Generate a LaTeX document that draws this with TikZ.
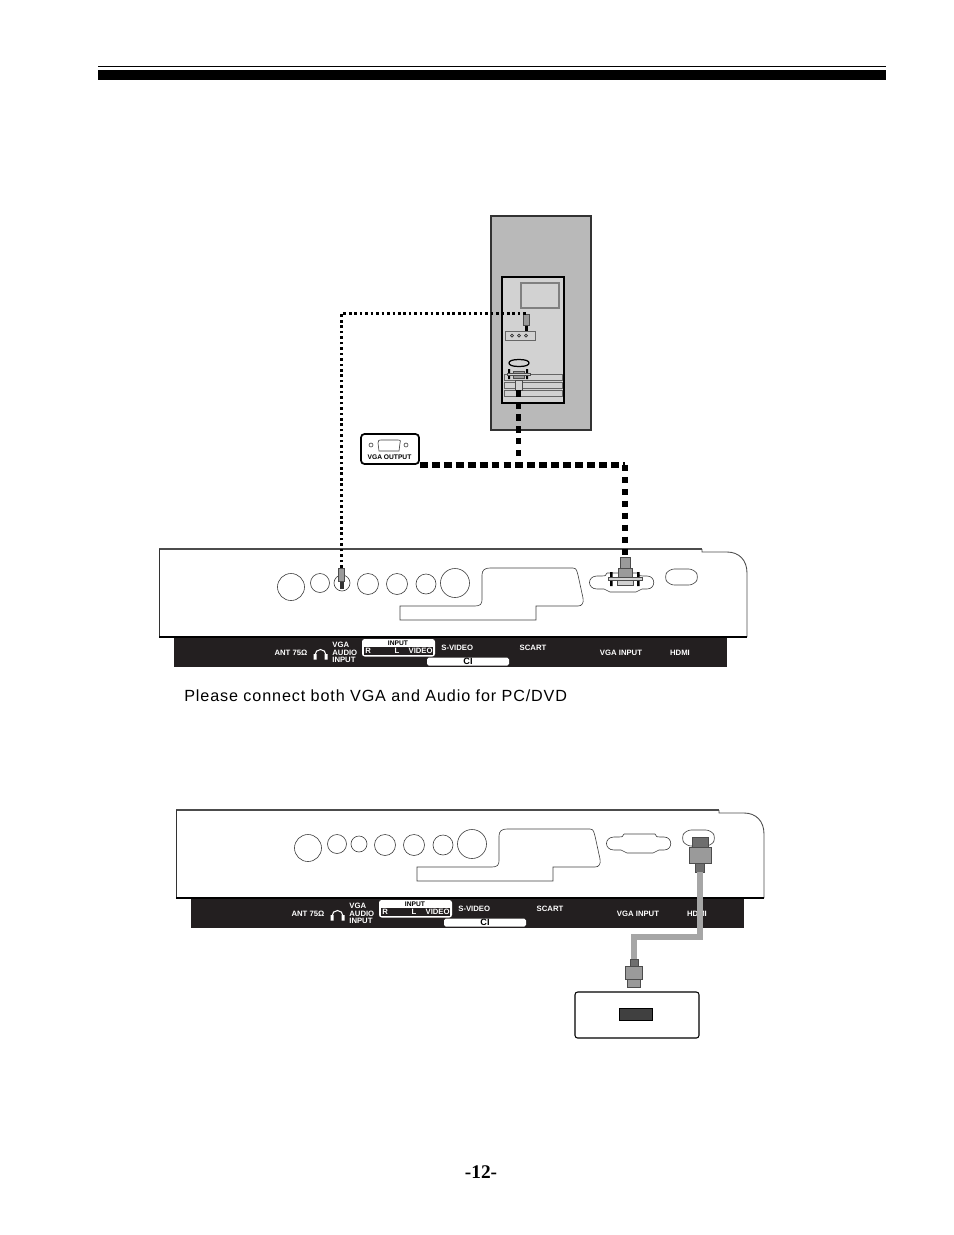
\documentclass[tikz,border=0pt]{standalone}
\usepackage{fontspec}
\setmainfont{Liberation Sans}
\newfontfamily\capfont[LetterSpace=5.4]{Liberation Sans}
\newfontfamily\pagefont{Liberation Serif}
\usetikzlibrary{positioning, calc}
\definecolor{cband}{HTML}{231F20}
\definecolor{cdevice}{HTML}{B9B9B9}
\definecolor{cpanel}{HTML}{D2D2D2}
\definecolor{cplug}{HTML}{9A9A9A}
\definecolor{chead}{HTML}{6E6E6E}
\definecolor{ccable}{HTML}{A6A6A6}
\tikzset{
  portline/.style={draw=black!75, line width=0.35pt},
  tvlabel/.style={font=\fontsize{4.4}{4.3}\selectfont\bfseries, text=white, inner sep=0pt},
  boxlabel/.style={font=\fontsize{3.8}{4}\selectfont\bfseries, text=black, inner sep=0pt},
  plugpart/.style={draw=black!70, fill=cplug, line width=0.4pt, inner sep=0pt},
  dotcable/.style={black, line width=1.5pt, dash pattern=on 1.5pt off 1.6pt},
  vgacable/.style={black, line width=3.2pt, dash pattern=on 3.6pt off 3.2pt},
  hdmicable/.style={ccable, line width=3.4pt},
  % rear panel with its label strip
  tvback/.pic={
    \draw[black!70, line width=1pt] (159,549) -- (702,549);
    \draw[black!70, line width=0.5pt] (702,549) -- (702,552) -- (727,552)
      .. controls (739,552) and (747,560) .. (747,573) -- (747,637);
    \draw[black!80, line width=0.5pt] (159,549) -- (159,637);
    \draw[black, line width=0.9pt] (159,637) -- (747,637);
    \fill[cband] (174,638) rectangle (727,667);
    % round sockets
    \foreach \x/\y/\r in {291/587/13.5, 320/583/9.5, 342/583/8, 368/584/10.5,
                          397/584/10.5, 426/584/10, 455/583/14.5}{
      \draw[portline] (\x,\y) circle (\r);
    }
    % scart and card slot
    \draw[portline] (482,600) -- (482,575) .. controls (482,570) and (485,568) .. (490,568)
      -- (573,568) .. controls (577,568) and (577,572) .. (578,575) -- (583,598)
      .. controls (584,603) and (582,606) .. (578,606) -- (536,606) -- (536,620)
      -- (400,620) -- (400,606) -- (475,606) .. controls (480,606) and (482,604) .. (482,600);
    % vga socket
    \draw[portline] (607,573) -- (638,573) .. controls (639,576) and (640,576) .. (643,576)
      -- (647,576) .. controls (656,576) and (656,589) .. (647,589) -- (642,589)
      .. controls (639,589) and (639,592) .. (636,592) -- (610,592)
      .. controls (607,592) and (607,589) .. (604,589) -- (597,589)
      .. controls (587,589) and (587,576) .. (597,576) -- (602,576)
      .. controls (605,576) and (606,576) .. (607,573);
    % hdmi socket
    \draw[portline, rounded corners=3pt] (669,569) -- (694,569) -- (699,577) -- (694,585)
      -- (669,585) -- (664,577) -- cycle;
    % label strip
    \node[tvlabel] (ant) at (291,653) {ANT 75Ω};
    \draw[white, line width=0.6pt] (315,655) arc (180:360:5.5);
    \fill[white] (313.5,654) rectangle (316.5,659.5) (324.5,654) rectangle (327.5,659.5);
    \node[tvlabel, align=left, anchor=west] (audio) at (332,652.5) {VGA\\AUDIO\\INPUT};
    \fill[white, rounded corners=1.5pt] (362,639) rectangle (435,656.5);
    \fill[cband] (364,647) rectangle (433,655);
    \node[boxlabel] (input) at (398,643) {INPUT};
    \node[tvlabel, anchor=west] (rlabel) at (365,651) {R};
    \node[tvlabel] (llabel) at (397,651) {L};
    \node[tvlabel, anchor=east] (videolabel) at (433,651) {VIDEO};
    \node[tvlabel, anchor=west] (svideo) at (441,647.5) {S-VIDEO};
    \fill[white, rounded corners=1pt] (427,657.5) rectangle (509,665.5);
    \node[boxlabel, font=\fontsize{5.2}{5}\selectfont\bfseries] (ci) at (468,661.5) {CI};
    \node[tvlabel] (scart) at (533,648) {SCART};
    \node[tvlabel] (vgainput) at (621,653) {VGA INPUT};
    \node[tvlabel] (hdmi) at (680,653) {HDMI};
  },
}

\begin{document}
\begin{tikzpicture}[x=0.02cm, y=-0.02cm]
  \useasboundingbox (0,0) rectangle (954,1235);
  % page rule
  \fill[black] (98,65.5) rectangle (886,67);
  \fill[black] (98,70) rectangle (886,80);

  % Source device
  \draw[black!80, fill=cdevice, line width=0.7pt] (491,216) rectangle (591,430);
  \draw[black, fill=cpanel, line width=0.7pt] (502,277) rectangle (564,403);
  \draw[black!50, fill=cpanel, line width=0.6pt] (521,283) rectangle (559,308);
  \draw[black!60, fill=cpanel, line width=0.5pt] (505,331) rectangle (535,340);
  \foreach \x in {512,519,526}{
    \draw[black!80, line width=0.4pt] (\x,335.5) circle (1.5);
  }
  \foreach \y in {374,382,390}{
    \draw[black!60, fill=cpanel, line width=0.5pt] (504,\y) rectangle (562,\y+6);
  }
  \draw[black, fill=cpanel, line width=0.7pt] (519,359.5) .. controls (512,359.5) and (509,361) .. (509,363)
    .. controls (509,365) and (512,366.5) .. (519,366.5)
    .. controls (526,366.5) and (529,365) .. (529,363)
    .. controls (529,361) and (526,359.5) .. (519,359.5);

  % Plug in the source device
  \fill[black] (525,325) rectangle (527.5,331);
  \node[plugpart, minimum width=0.12cm, minimum height=0.22cm] (pcjack) at (526,319.5) {};
  \fill[black] (508,369) rectangle (510,379) (526,369) rectangle (528,379);
  \draw[plugpart] (513,371) rectangle (524,378);
  \draw[plugpart, fill=cpanel] (507,373) rectangle (530,375);
  \node[plugpart, fill=cpanel, minimum width=0.14cm, minimum height=0.2cm] (pcvga) at (518.5,385) {};

  % VGA OUTPUT tag
  \node[draw=black, rounded corners=2pt, line width=1pt, fill=white, inner sep=0pt,
        minimum width=1.16cm, minimum height=0.6cm] (vgaout) at (390,449) {};
  \node[boxlabel] (vgaoutlabel) at (389.5,457) {VGA OUTPUT};
  \draw[portline] (379,451) -- (378,443) .. controls (378,440) and (379,440) .. (381,440)
    -- (398,440) .. controls (400,440) and (401,440) .. (400,443) -- (399,451) -- cycle;
  \draw[portline] (371,445) circle (2);
  \draw[portline] (406,445) circle (2);

  % Rear panels
  \pic (tvA) at (0,0) {tvback};
  \pic (tvB) at (17,261) {tvback};

  % Plugs in the first rear panel
  \fill[black!80] (340,581) rectangle (343.5,589);
  \node[plugpart, minimum width=0.12cm, minimum height=0.26cm] (tvjack) at (341.5,574.5) {};
  \fill[black] (610,572) rectangle (612.5,586) (637,572) rectangle (639.5,586);
  \draw[plugpart, fill=cpanel] (617,580) rectangle (633,585);
  \draw[plugpart] (618,568) rectangle (632,577);
  \draw[plugpart, fill=cpanel] (608,577) rectangle (642,580);
  \node[plugpart, minimum width=0.2cm, minimum height=0.22cm] (tvvga) at (625,562.5) {};

  % Cables of the first panel
  \coordinate (junction) at (pcvga.south |- vgaout.south);
  \coordinate (corner) at (tvvga.north |- vgaout.south);
  \draw[dotcable] (tvjack.north) |- (pcjack.north);
  \draw[vgacable] (pcvga.south) -- (junction);
  \draw[vgacable, dash pattern=on 4.5pt off 2.3pt] (vgaout.south east) -- (corner);
  \draw[vgacable] (corner) -- (tvvga.north);

  % Sink device
  \node[draw=black, rounded corners=1.5pt, line width=0.6pt, inner sep=0pt,
        minimum width=2.48cm, minimum height=0.92cm] (sinkbox) at (637,1015) {};
  \node[draw=black, fill=black!75, line width=0.5pt, inner sep=0pt,
        minimum width=0.66cm, minimum height=0.24cm] (sinkport) at (635.5,1014) {};

  % HDMI lead
  \node[plugpart, fill=chead, minimum width=0.32cm, minimum height=0.2cm] (hdmiAhead) at (700,842) {};
  \node[plugpart, minimum width=0.44cm, minimum height=0.32cm, below=-0.4pt of hdmiAhead] (hdmiAbody) {};
  \node[plugpart, fill=chead, minimum width=0.18cm, minimum height=0.18cm, below=-0.4pt of hdmiAbody] (hdmiAtail) {};
  \node[plugpart, fill=chead, minimum width=0.16cm, minimum height=0.14cm] (hdmiBtail) at (634,962.5) {};
  \node[plugpart, minimum width=0.34cm, minimum height=0.26cm, below=-0.4pt of hdmiBtail] (hdmiBbody) {};
  \node[plugpart, minimum width=0.26cm, minimum height=0.16cm, below=-0.4pt of hdmiBbody] (hdmiBhead) {};
  \coordinate (leadtop) at (hdmiAtail.south |- 0,937);
  \coordinate (leadlow) at (hdmiBtail.north |- 0,937);
  \draw[hdmicable] (hdmiAtail.south) -- (leadtop) -- (leadlow) -- (hdmiBtail.north);

  % Texts
  \node[font=\capfont\fontsize{9.2}{11}\selectfont, anchor=west, inner sep=0pt] (note) at (184,696) {Please connect both VGA and Audio for PC/DVD};
  \node[font=\pagefont\fontsize{11}{13}\selectfont\bfseries, inner sep=0pt] (pageno) at (481,1172) {-12-};
\end{tikzpicture}
\end{document}
